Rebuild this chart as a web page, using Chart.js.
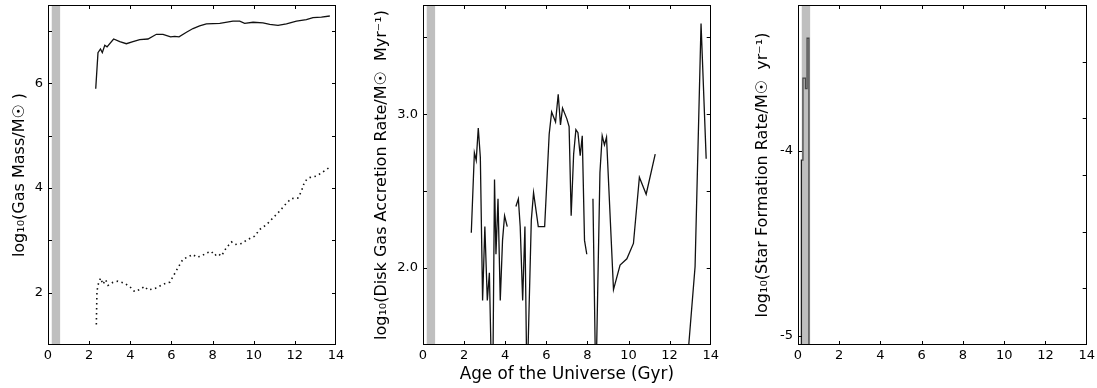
<!DOCTYPE html>
<html>
<head>
<meta charset="utf-8">
<script src="https://cdn.jsdelivr.net/npm/chart.js@4.4.1/dist/chart.umd.min.js"></script>
<style>
  html, body { margin: 0; padding: 0; background: #fff; }
  body { width: 1097px; height: 388px; position: relative; overflow: hidden; }
  canvas { position: absolute; top: 0; }
</style>
</head>
<body>
<canvas id="gasChart" width="350" height="388" style="left:0px"></canvas>
<canvas id="accrChart" width="370" height="388" style="left:350px"></canvas>
<canvas id="sfrChart" width="377" height="388" style="left:720px"></canvas>
<script>
// Eje común: edad del universo (Gyr)
const ageTicks = [0, 2, 4, 6, 8, 10, 12, 14];
const youngBand = [0.17, 0.6];

// Panel 1: masa de gas (línea sólida y punteada)
const gasAge = [2.32, 2.43, 2.55, 2.64, 2.76, 2.87, 3.19, 3.49, 3.81, 4.13, 4.46, 4.86, 5.27, 5.59, 5.96, 6.16, 6.37, 6.73, 7.05, 7.37, 7.70, 8.35, 8.99, 9.32, 9.56, 9.97, 10.45, 10.78, 11.18, 11.59, 12.08, 12.56, 12.88, 13.29, 13.7];
const gasMass = [5.9, 6.59, 6.66, 6.59, 6.73, 6.70, 6.85, 6.80, 6.76, 6.80, 6.84, 6.85, 6.94, 6.94, 6.89, 6.90, 6.89, 6.98, 7.05, 7.10, 7.14, 7.15, 7.19, 7.19, 7.15, 7.17, 7.16, 7.13, 7.11, 7.14, 7.19, 7.22, 7.26, 7.27, 7.29];
const coldAge = [2.35, 2.38, 2.46, 2.56, 2.67, 2.80, 2.92, 3.16, 3.40, 3.73, 4.05, 4.21, 4.46, 4.70, 4.86, 5.27, 5.59, 5.92, 6.08, 6.32, 6.56, 6.89, 7.05, 7.21, 7.46, 7.70, 7.94, 8.10, 8.26, 8.43, 8.67, 8.92, 9.08, 9.40, 9.72, 10.05, 10.29, 10.62, 10.94, 11.26, 11.59, 11.83, 12.15, 12.32, 12.48, 12.72, 13.05, 13.37, 13.7];
const coldMass = [1.39, 2.03, 2.19, 2.28, 2.16, 2.25, 2.14, 2.20, 2.22, 2.18, 2.09, 2.02, 2.06, 2.12, 2.05, 2.09, 2.16, 2.20, 2.31, 2.48, 2.64, 2.70, 2.73, 2.68, 2.70, 2.76, 2.79, 2.71, 2.75, 2.70, 2.86, 2.97, 2.92, 2.94, 3.02, 3.08, 3.21, 3.30, 3.43, 3.56, 3.71, 3.80, 3.81, 3.94, 4.13, 4.20, 4.23, 4.31, 4.40];
const gasTicks = [2, 3, 4, 5, 6, 7];

// Panel 2: tasa de acreción (null = hueco en la curva)
const accrAge = [2.35, 2.50, 2.59, 2.69, 2.79, 2.90, 3.01, 3.13, 3.23, 3.38, 3.48, 3.55, 3.65, 3.76, 3.87, 3.97, 4.10, 4.30, 4.52, 4.64, 4.73, 4.85, 4.96, 5.06, 5.27, 5.38, 5.61, 5.92, 6.14, 6.26, 6.45, 6.58, 6.69, 6.79, 7.00, 7.11, 7.21, 7.33, 7.44, 7.54, 7.65, 7.75, 7.86, 7.97, 8.10, 8.27, 8.41, 8.61, 8.72, 8.83, 8.93, 9.27, 9.59, 9.92, 10.24, 10.53, 10.86, 11.30, 12.00, 12.75, 13.24, 13.53, 13.78];
const accrRate = [2.23, 2.75, 2.70, 2.91, 2.72, 1.79, 2.27, 1.79, 1.97, 1.0, 2.575, 2.09, 2.45, 1.79, 2.18, 2.34, 2.27, null, 2.40, 2.45, 2.27, 1.79, 2.27, 1.2, 2.31, 2.49, 2.27, 2.27, 2.87, 3.015, 2.95, 3.13, 2.93, 3.04, 2.97, 2.92, 2.34, 2.74, 2.90, 2.88, 2.73, 2.86, 2.18, 2.09, null, 2.45, 1.2, 2.62, 2.86, 2.80, 2.85, 1.86, 2.02, 2.06, 2.16, 2.59, 2.48, 2.74, null, 1.2, 2.01, 3.59, 2.71];
const accrTicks = [2.0, 2.5, 3.0, 3.5];

// Panel 3: tasa de formación estelar
const sfrAge = [0.165, 0.165, 0.24, 0.24, 0.36, 0.36, 0.44, 0.44, 0.53, 0.53];
const sfrRate = [-5.3, -4.05, -4.05, -3.606, -3.606, -3.663, -3.663, -3.39, -3.39, -5.3];
const sfrTicks = [-5, -4];
const sfrRightTicks = [1, 2, 3, 4, 5];

Chart.defaults.font.family = 'DejaVu Sans';
Chart.defaults.color = '#000';

const pts = (xs, ys) => xs.map((x, i) => ({ x: x, y: ys[i] }));

// Marcas de escala hacia dentro + marco (estilo matplotlib clásico)
const innerTicks = {
    id: 'innerTicks',
    afterDraw(chart, args, opts) {
        const { ctx, chartArea: a } = chart;
        const len = 4;
        const xs = chart.scales.x;
        const yl = chart.scales.y;
        const yr = chart.scales[opts.right || 'y'];
        ctx.save();
        ctx.strokeStyle = '#000';
        ctx.lineWidth = 1;
        ctx.beginPath();
        xs.ticks.forEach(t => {
            const px = Math.round(xs.getPixelForValue(t.value)) + 0.5;
            if (px <= a.left + 1 || px >= a.right - 1) return;
            ctx.moveTo(px, a.bottom); ctx.lineTo(px, a.bottom - len);
            ctx.moveTo(px, a.top); ctx.lineTo(px, a.top + len);
        });
        yl.ticks.forEach(t => {
            const py = Math.round(yl.getPixelForValue(t.value)) + 0.5;
            if (py <= a.top + 1 || py >= a.bottom - 1) return;
            ctx.moveTo(a.left, py); ctx.lineTo(a.left + len, py);
        });
        yr.ticks.forEach(t => {
            const py = Math.round(yr.getPixelForValue(t.value)) + 0.5;
            if (py <= a.top + 1 || py >= a.bottom - 1) return;
            ctx.moveTo(a.right, py); ctx.lineTo(a.right - len, py);
        });
        ctx.stroke();
        ctx.strokeRect(Math.round(a.left) + 0.5, Math.round(a.top) + 0.5, Math.round(a.width) - 1, Math.round(a.height) - 1);
        ctx.restore();
    }
};

function bandDataset(top) {
    return {
        data: [{ x: youngBand[0], y: top }, { x: youngBand[1], y: top }],
        fill: 'start',
        backgroundColor: 'rgba(128,128,128,0.5)',
        borderWidth: 0,
        pointRadius: 0,
        order: -1
    };
}

function makeOptions(cfg) {
    const opts = {
        responsive: false,
        animation: false,
        devicePixelRatio: 1,
        layout: { padding: { top: 5, right: cfg.padRight, bottom: 0, left: 0 } },
        plugins: {
            legend: { display: false },
            tooltip: { enabled: false },
            innerTicks: { right: cfg.rightAxis || 'y' }
        },
        elements: { point: { radius: 0 } },
        scales: {
            x: {
                type: 'linear', min: 0, max: 14,
                grid: { display: false, drawTicks: false }, border: { display: false },
                afterBuildTicks: s => { s.ticks = ageTicks.map(v => ({ value: v })); },
                afterFit: s => { s.height = 43; s.paddingLeft = 0; s.paddingRight = 0; },
                ticks: { autoSkip: false, maxRotation: 0, padding: 3, font: { size: 13 }, callback: v => String(v) },
                title: { display: !!cfg.xTitle, text: cfg.xTitle || '', font: { size: 16.8 }, padding: { top: 0, bottom: 3 } }
            },
            y: {
                type: 'linear', min: cfg.yMin, max: cfg.yMax,
                grid: { display: false, drawTicks: false }, border: { display: false },
                afterBuildTicks: s => { s.ticks = cfg.yTicks.map(v => ({ value: v })); },
                afterFit: s => { s.width = cfg.axisWidth; s.paddingTop = 0; s.paddingBottom = 0; },
                ticks: { padding: 5, font: { size: 13 }, callback: cfg.yFormat },
                title: { display: true, text: cfg.yLabel, font: { size: 16 }, padding: { top: cfg.titlePad, bottom: 0 } }
            }
        }
    };
    if (cfg.rightAxis) {
        opts.scales[cfg.rightAxis] = {
            type: 'linear', position: 'right', min: 0, max: 6,
            grid: { display: false, drawTicks: false }, border: { display: false },
            ticks: { display: false },
            afterBuildTicks: s => { s.ticks = sfrRightTicks.map(v => ({ value: v })); },
            afterFit: s => { s.width = 0; s.paddingTop = 0; s.paddingBottom = 0; }
        };
    }
    return opts;
}

new Chart(document.getElementById('gasChart'), {
    type: 'line',
    data: {
        datasets: [
            { data: pts(gasAge, gasMass), borderColor: '#111', borderWidth: 1.3, pointRadius: 0 },
            { data: pts(coldAge, coldMass), borderColor: '#111', borderWidth: 1.6, borderDash: [1.5, 3.5], pointRadius: 0 },
            bandDataset(7.5)
        ]
    },
    options: makeOptions({
        yMin: 1.0, yMax: 7.5, yTicks: gasTicks, axisWidth: 48, titlePad: 10.4, padRight: 14,
        yLabel: 'log₁₀(Gas Mass/M☉ )',
        yFormat: v => (v % 2 === 0 ? String(v) : '')
    }),
    plugins: [innerTicks]
});

new Chart(document.getElementById('accrChart'), {
    type: 'line',
    data: {
        datasets: [
            { data: pts(accrAge, accrRate), borderColor: '#111', borderWidth: 1.3, pointRadius: 0, spanGaps: false },
            bandDataset(3.71)
        ]
    },
    options: makeOptions({
        yMin: 1.5, yMax: 3.71, yTicks: accrTicks, axisWidth: 73, titlePad: 22.1, padRight: 9.3,
        yLabel: 'log₁₀(Disk Gas Accretion Rate/M☉  Myr⁻¹)',
        xTitle: 'Age of the Universe (Gyr)',
        yFormat: v => (Number.isInteger(v) ? v.toFixed(1) : '')
    }),
    plugins: [innerTicks]
});

new Chart(document.getElementById('sfrChart'), {
    type: 'line',
    data: {
        datasets: [
            { data: pts(sfrAge, sfrRate), borderColor: '#111', borderWidth: 1.3, pointRadius: 0 },
            bandDataset(-3.21)
        ]
    },
    options: makeOptions({
        yMin: -5.05, yMax: -3.21, yTicks: sfrTicks, axisWidth: 78, titlePad: 33.4, padRight: 10.3,
        yLabel: 'log₁₀(Star Formation Rate/M☉  yr⁻¹)',
        rightAxis: 'y2',
        yFormat: v => String(v)
    }),
    plugins: [innerTicks]
});
</script>
</body>
</html>
